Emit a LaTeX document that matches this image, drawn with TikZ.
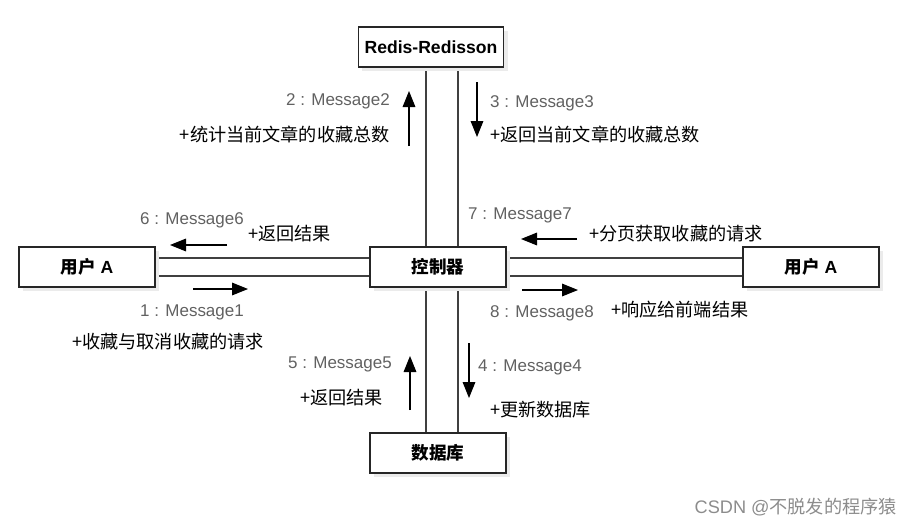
\documentclass[tikz,border=0pt]{standalone}
\usepackage{fontspec}
\setmainfont{Liberation Sans}
\newfontfamily\cjk{Noto Sans CJK SC}
\usetikzlibrary{arrows.meta, backgrounds, shadows}

\begin{document}
\begin{tikzpicture}[
        x=0.03cm, y=-0.03cm,
        box/.style={draw=black!85, line width=1.1pt, fill=white, minimum width=4.08cm, minimum height=1.2cm,
            font=\fontsize{15}{18}\selectfont\bfseries,
            drop shadow={shadow xshift=0.12cm, shadow yshift=-0.12cm, fill=black!8, opacity=1}},
        msg/.style={inner sep=0pt, text=black!62, font=\fontsize{14.5}{17}\selectfont},
        note/.style={inner sep=0pt, font=\fontsize{15.5}{18}\selectfont\cjk},
        link/.style={draw=black!75, line width=0.9pt},
        arrow/.style={-{Triangle[length=4.8mm, width=3.8mm]}, line width=0.9pt}
    ]
    \useasboundingbox (0,0) rectangle (913,527);

    % Objects
    \node[box, minimum width=4.35cm] (redis) at (431,47) {Redis-Redisson};
    \node[box] (ctrl) at (438,267) {\cjk 控制器};
    \node[box] (userL) at (87,267) {{\cjk 用户} A};
    \node[box] (userR) at (811,267) {{\cjk 用户} A};
    \node[box] (db) at (438,453) {\cjk 数据库};

    % Links (behind the boxes)
    \coordinate (vl) at (426,0);
    \coordinate (vr) at (458,0);
    \coordinate (ht) at (0,258);
    \coordinate (hb) at (0,276);
    \begin{scope}[on background layer]
        \draw[link] (vl |- redis.south) -- (vl |- db.north);
        \draw[link] (vr |- redis.south) -- (vr |- db.north);
        \draw[link] (userL.east |- ht) -- (ctrl.west |- ht);
        \draw[link] (userL.east |- hb) -- (ctrl.west |- hb);
        \draw[link] (ctrl.east |- ht) -- (userR.west |- ht);
        \draw[link] (ctrl.east |- hb) -- (userR.west |- hb);
    \end{scope}

    % Message arrows
    \coordinate (m1a) at (193,289);  \coordinate (m1b) at (248,289);
    \coordinate (m2a) at (409,146);  \coordinate (m2b) at (409,91);
    \coordinate (m3a) at (477,82);   \coordinate (m3b) at (477,137);
    \coordinate (m4a) at (469,343);  \coordinate (m4b) at (469,398);
    \coordinate (m5a) at (410,410);  \coordinate (m5b) at (410,356);
    \coordinate (m6a) at (227,245);  \coordinate (m6b) at (170,245);
    \coordinate (m7a) at (577,239);  \coordinate (m7b) at (521,239);
    \coordinate (m8a) at (522,290);  \coordinate (m8b) at (578,290);
    \draw[arrow] (m1a) -- (m1b);
    \draw[arrow] (m2a) -- (m2b);
    \draw[arrow] (m3a) -- (m3b);
    \draw[arrow] (m4a) -- (m4b);
    \draw[arrow] (m5a) -- (m5b);
    \draw[arrow] (m6a) -- (m6b);
    \draw[arrow] (m7a) -- (m7b);
    \draw[arrow] (m8a) -- (m8b);

    % Message labels
    \node[msg, anchor=west] (l1) at (140,312) {1 : Message1};
    \node[note, anchor=west] (n1) at (72,342) {+收藏与取消收藏的请求};
    \node[msg, anchor=east] (l2) at (390,101) {2 : Message2};
    \node[note, anchor=east] (n2) at (390,134) {+统计当前文章的收藏总数};
    \node[msg, anchor=west] (l3) at (490,103) {3 : Message3};
    \node[note, anchor=west] (n3) at (490,134) {+返回当前文章的收藏总数};
    \node[msg, anchor=west] (l4) at (478,367) {4 : Message4};
    \node[note, anchor=west] (n4) at (490,410) {+更新数据库};
    \node[msg, anchor=east] (l5) at (392,364) {5 : Message5};
    \node[note, anchor=east] (n5) at (383,398) {+返回结果};
    \node[msg, anchor=west] (l6) at (140,220) {6 : Message6};
    \node[note, anchor=west] (n6) at (248,234) {+返回结果};
    \node[msg, anchor=west] (l7) at (468,215) {7 : Message7};
    \node[note, anchor=west] (n7) at (589,234) {+分页获取收藏的请求};
    \node[msg, anchor=west] (l8) at (490,313) {8 : Message8};
    \node[note, anchor=west] (n8) at (611,310) {+响应给前端结果};

    % Watermark
    \node[msg, anchor=east, text=black!45, font=\fontsize{15.5}{18}\selectfont] (mark) at (897,507) {CSDN @{\cjk 不脱发的程序猿}};

\end{tikzpicture}
\end{document}
